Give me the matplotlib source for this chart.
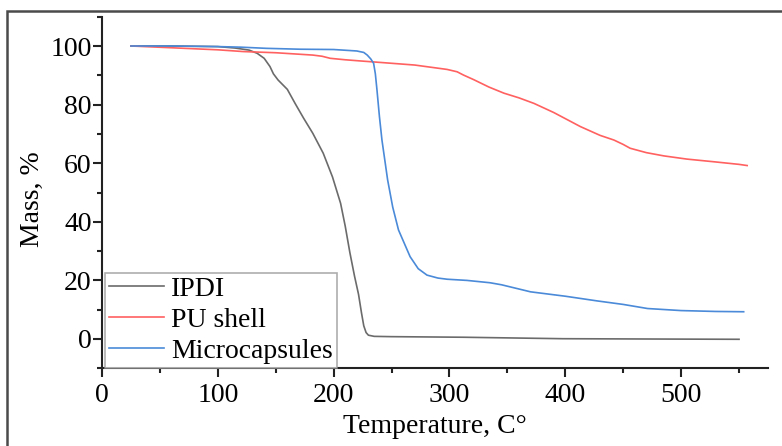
import numpy as np
import matplotlib.pyplot as plt
from matplotlib.patches import Rectangle
from matplotlib.ticker import MultipleLocator

plt.rcParams['font.family'] = ['Liberation Serif', 'DejaVu Serif']

# IPDI
ipdi_t = [25, 60, 100, 115, 127, 134, 140, 145, 148, 152, 160, 167, 174, 182, 191, 199,
          206, 210, 214, 218, 221.5, 224, 226, 228, 230, 235, 250, 312, 398, 470, 550]
ipdi_m = [100, 100, 99.8, 99.3, 98.6, 97.5, 95.8, 93, 90.5, 88.4, 85.2, 80.2, 75.4, 70.2, 63.4, 55.3,
          46.3, 38.5, 29.5, 21.5, 15.2, 9, 4.5, 2.2, 1.3, 0.9, 0.8, 0.6, 0.1, 0, -0.1]

# PU shell
pu_t = [25, 60, 100, 122, 150, 182, 190, 197, 210, 223, 240, 270, 298, 306.6, 312, 321, 334,
        347, 360, 373, 390, 413, 430, 442, 450, 456, 470, 485, 505, 528, 550, 557]
pu_m = [100, 99.4, 98.7, 98.1, 97.7, 96.9, 96.5, 95.8, 95.3, 94.9, 94.4, 93.5, 92, 91.2, 90.1, 88.5, 86,
        83.9, 82.3, 80.4, 77.3, 72.5, 69.5, 67.9, 66.4, 65.1, 63.6, 62.5, 61.4, 60.5, 59.6, 59.2]

# Microcapsules
mc_t = [25, 60, 100, 120, 142, 171, 200, 220, 226, 229, 232, 234.5, 236, 237.4, 239.5, 241.7,
        246.6, 251, 256, 266, 273, 280.6, 290, 298, 315, 335, 345, 370, 400, 427.5, 450, 471,
        500, 530, 554]
mc_m = [100, 100, 99.8, 99.6, 99.2, 98.9, 98.8, 98.3, 97.8, 96.9, 95.6, 94.1, 90.5, 85, 76, 67.9,
        54.3, 45, 37.2, 28.1, 24, 21.8, 20.8, 20.4, 20, 19.2, 18.5, 16.1, 14.6, 13, 11.8, 10.4,
        9.7, 9.4, 9.3]

fig = plt.figure(figsize=(7.82, 4.46), dpi=100)
ax = fig.add_axes([102/782, 1 - 368.3/446, 666/782, 351.6/446])

ax.plot(ipdi_t, ipdi_m, color='#6b6b6b', lw=1.2, label='IPDI')
ax.plot(pu_t, pu_m, color='#ff6060', lw=1.2, label='PU shell')
ax.plot(mc_t, mc_m, color='#4a8ad8', lw=1.2, label='Microcapsules')

ax.set_xlim(0, 575)
ax.set_ylim(-10, 110)
ax.xaxis.set_major_locator(MultipleLocator(100))
ax.xaxis.set_minor_locator(MultipleLocator(50))
ax.yaxis.set_major_locator(MultipleLocator(20))
ax.yaxis.set_minor_locator(MultipleLocator(10))
ax.set_yticks([0, 20, 40, 60, 80, 100])

for s in ['top', 'right']:
    ax.spines[s].set_visible(False)
for s in ['left', 'bottom']:
    ax.spines[s].set_linewidth(1.5)
    ax.spines[s].set_color('#222222')

ax.tick_params(which='major', length=6.5, width=1.5, labelsize=20, pad=1, color='#222222')
ax.tick_params(axis='x', which='major', pad=4)
ax.tick_params(which='minor', length=3.5, width=1.5, color='#222222')

ax.set_xlabel('Temperature, C°', fontsize=20)
ax.set_ylabel('Mass, %', fontsize=20)
ax.xaxis.set_label_coords(0.5, -0.13)
ax.yaxis.set_label_coords(-0.085, 0.48)

leg = ax.legend(loc='lower left', bbox_to_anchor=(0.004, 0.0), borderaxespad=0,
                fontsize=20, frameon=True, fancybox=False, borderpad=0.15,
                labelspacing=0.2, handletextpad=0.25, handlelength=2.0)
leg.get_frame().set_edgecolor('#999999')
leg.get_frame().set_linewidth(1.2)

# outer border of the figure panel
fig.patches.append(Rectangle((7/782, -0.1), 1.1, 1 - 11/446 + 0.1, transform=fig.transFigure,
                             fill=False, edgecolor='#4a4a4a', lw=1.8))

fig.savefig('out.png', dpi=100)
